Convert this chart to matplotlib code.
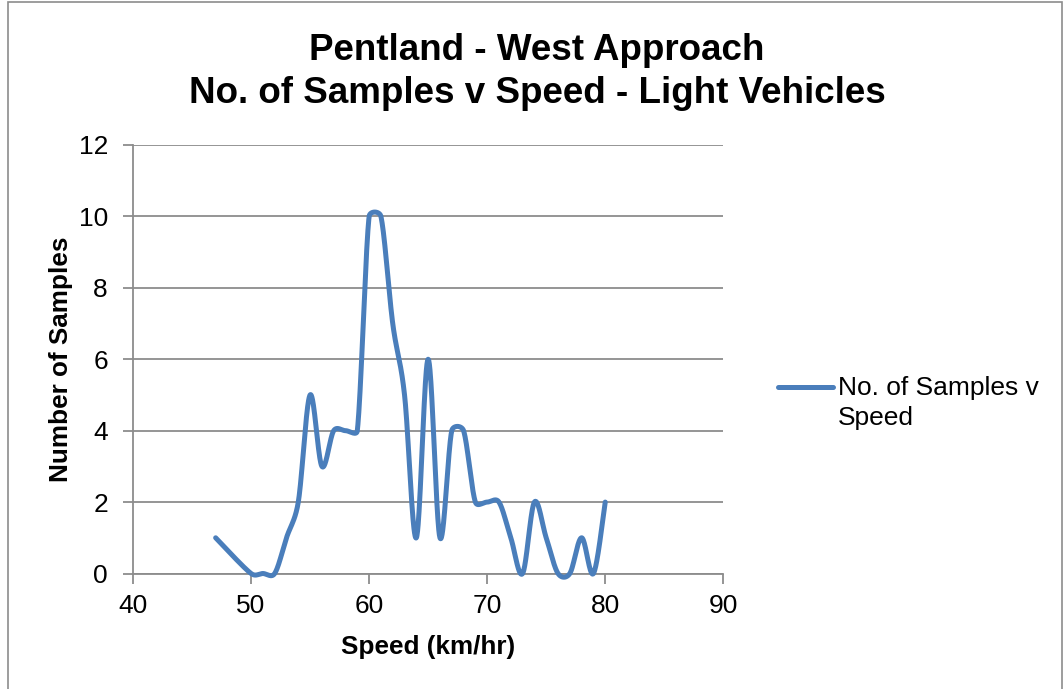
import matplotlib
matplotlib.use("Agg")
import matplotlib.pyplot as plt
import numpy as np
from matplotlib.patches import Rectangle
from matplotlib.legend_handler import HandlerLine2D

plt.rcParams['font.family'] = ['Liberation Sans', 'DejaVu Sans']

# speed (km/hr) and number of samples at each speed
speeds = [47, 50, 51, 52, 53, 54, 55, 56, 57, 58, 59, 60, 61, 62, 63, 64,
          65, 66, 67, 68, 69, 70, 71, 72, 73, 74, 75, 76, 77, 78, 79, 80]
counts = [1, 0, 0, 0, 1, 2, 5, 3, 4, 4, 4, 10, 10, 7, 5, 1,
          6, 1, 4, 4, 2, 2, 2, 1, 0, 2, 1, 0, 0, 1, 0, 2]

x_ticks = [40, 50, 60, 70, 80, 90]
y_ticks = [0, 2, 4, 6, 8, 10, 12]

title = "Pentland - West Approach\nNo. of Samples v Speed - Light Vehicles"
series_name = "No. of Samples v\nSpeed"


def smooth(p, n=40):
    # bezier "smoothed line": control arms 1/6 of the neighbour chord,
    # capped at half the segment length (works in screen pixels)
    p = np.asarray(p, dtype=float)
    out = []
    for i in range(len(p) - 1):
        p0 = p[i - 1] if i > 0 else p[i]
        p1, p2 = p[i], p[i + 1]
        p3 = p[i + 2] if i + 2 < len(p) else p[i + 1]
        d12 = np.hypot(*(p2 - p1))
        d02 = np.hypot(*(p2 - p0))
        d13 = np.hypot(*(p3 - p1))
        f = 1 / 6 if d02 / 6 < d12 / 2 else d12 / (2 * d02)
        g = 1 / 6 if d13 / 6 < d12 / 2 else d12 / (2 * d13)
        c1 = p1 + (p2 - p0) * f
        c2 = p2 - (p3 - p1) * g
        t = np.linspace(0, 1, n)[:, None]
        seg = ((1 - t) ** 3 * p1 + 3 * (1 - t) ** 2 * t * c1
               + 3 * (1 - t) * t ** 2 * c2 + t ** 3 * p2)
        out.append(seg if i == 0 else seg[1:])
    return np.vstack(out)


class FirstLineHandler(HandlerLine2D):
    # put the legend line next to the first line of a two-line label
    def create_artists(self, legend, orig_handle, xdescent, ydescent,
                       width, height, fontsize, trans):
        arts = super().create_artists(legend, orig_handle, xdescent, ydescent,
                                      width, height, fontsize, trans)
        for a in arts:
            a.set_ydata(np.asarray(a.get_ydata()) + 0.6 * fontsize)
        return arts


W, H = 1064, 689
fig = plt.figure(figsize=(W / 100, H / 100), dpi=100)
fig.patch.set_facecolor('white')

# outer chart border
fig.add_artist(Rectangle((8 / W, -0.02), (1062 - 8) / W, 1.02 - 2 / H,
                         transform=fig.transFigure, fill=False,
                         edgecolor='#8c8c8c', linewidth=1.2))

ax = fig.add_axes([133 / W, 1 - 573.5 / H, (723.3 - 133) / W, (573.5 - 145) / H])
ax.set_xlim(40, 90)
ax.set_ylim(0, 12)

pts = ax.transData.transform(np.column_stack([speeds, counts]))
curve = ax.transData.inverted().transform(smooth(pts))
line, = ax.plot(curve[:, 0], curve[:, 1], color='#4a7ebb', linewidth=3.6,
                solid_capstyle='round', solid_joinstyle='round',
                label=series_name, clip_on=False, zorder=3)

ax.set_xticks(x_ticks)
ax.set_yticks(y_ticks)
ax.grid(axis='y', color='#8c8c8c', linewidth=1.3)
ax.set_axisbelow(True)

for s in ['top', 'right']:
    ax.spines[s].set_visible(False)
for s in ['left', 'bottom']:
    ax.spines[s].set_color('#8c8c8c')
    ax.spines[s].set_linewidth(1.3)

ax.tick_params(axis='both', colors='#8c8c8c', length=7, width=1.3,
               labelsize=19, labelcolor='black', direction='out')
ax.tick_params(axis='y', pad=11)
ax.tick_params(axis='x', pad=8)

ax.set_xlabel("Speed (km/hr)", fontsize=18.8, fontweight='bold', labelpad=12)
ax.set_ylabel("Number of Samples", fontsize=18.8, fontweight='bold', labelpad=4)

fig.text(537 / W, 1 - 72 / H, title, ha='center', va='center',
         fontsize=26.5, fontweight='bold', linespacing=1.3)

leg = ax.legend(handler_map={line: FirstLineHandler()},
                loc='center left', bbox_to_anchor=(767 / W, 1 - 403 / H),
                bbox_transform=fig.transFigure, frameon=False,
                fontsize=19, handlelength=2.1, handletextpad=0.2,
                borderaxespad=0)
for t in leg.get_texts():
    t.set_linespacing(1.3)

fig.savefig("out.png", dpi=100, facecolor='white')
